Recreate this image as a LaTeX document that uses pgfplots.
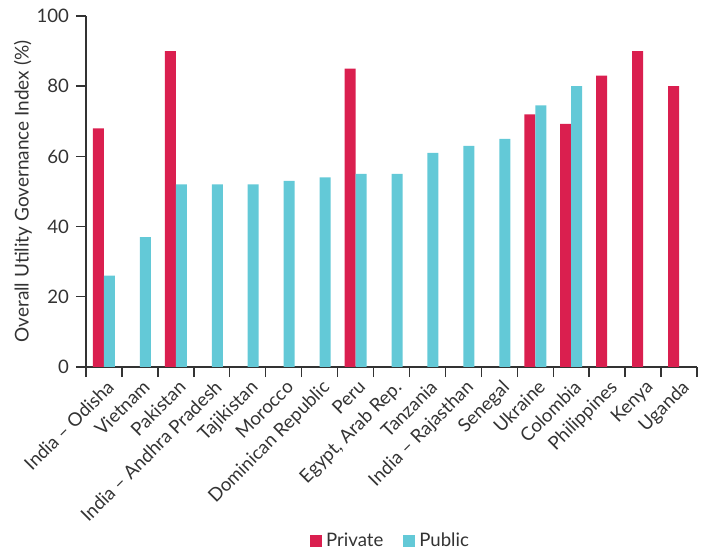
\documentclass[border=0pt]{standalone}
\usepackage{pgfplots}
\pgfplotsset{compat=1.18}
\usepackage{fontspec}
\setmainfont{Lato}
\definecolor{priv}{HTML}{DA1F4F}
\definecolor{pub}{HTML}{63C9D7}
\definecolor{txt}{HTML}{333333}
\begin{document}
\begin{tikzpicture}
\begin{axis}[
  scale only axis,
  width=305.5pt, height=175.5pt,
  xmin=-0.5, xmax=16.5, ymin=0, ymax=100,
  axis lines*=left,
  axis line style={txt, line width=0.8pt},
  ytick={0,20,...,100},
  xtick={0,...,16},
  xticklabels={India -- Odisha, Vietnam, Pakistan, India -- Andhra Pradesh, Tajikistan, Morocco, Dominican Republic, Peru, {Egypt, Arab Rep.}, Tanzania, India -- Rajasthan, Senegal, Ukraine, Colombia, Philippines, Kenya, Uganda},
  x tick label style={rotate=45, anchor=north east, inner sep=1pt, xshift=1pt},
  minor xtick={-0.5,0.5,...,16.5},
  x tick style={draw=none},
  minor x tick style={draw=txt, line width=0.7pt},
  minor tick length=5pt,
  xtick align=inside,
  ytick align=outside,
  major tick length=5pt,
  y tick style={draw=txt, line width=0.7pt},
  tick label style={font=\fontsize{9.3}{11}\selectfont, text=txt},
  /pgf/number format/assume math mode=true,
  ylabel={Overall Utility Governance Index (\%)},
  ylabel style={font=\fontsize{9.5}{11}\selectfont, text=txt},
  ylabel shift=-4.5pt,
  ybar, bar width=5.5pt,
  legend style={at={(0.5,0)}, yshift=-87pt, anchor=center, draw=none, legend columns=2, font=\fontsize{9.3}{11}\selectfont, text=txt, /tikz/every even column/.append style={column sep=8pt}},
  legend image code/.code={\fill[#1] (0pt,-3pt) rectangle (6pt,3pt);},
  clip=false,
]
\addplot[fill=priv, draw=none, bar shift=-2.75pt] coordinates {(0,68) (2,90) (7,85) (12,72) (13,69.3) (14,83) (15,90) (16,80)};
\addlegendentry{Private}
\addplot[fill=pub, draw=none, bar shift=2.75pt] coordinates {(0,26) (1,37) (2,52) (3,52) (4,52) (5,53) (6,54) (7,55) (8,55) (9,61) (10,63) (11,65) (12,74.5) (13,80)};
\addlegendentry{Public}
\path (rel axis cs:0,0) ++(-43pt,-91.5pt) (rel axis cs:1,1) ++(3.5pt,8pt);
\end{axis}
\end{tikzpicture}
\end{document}
